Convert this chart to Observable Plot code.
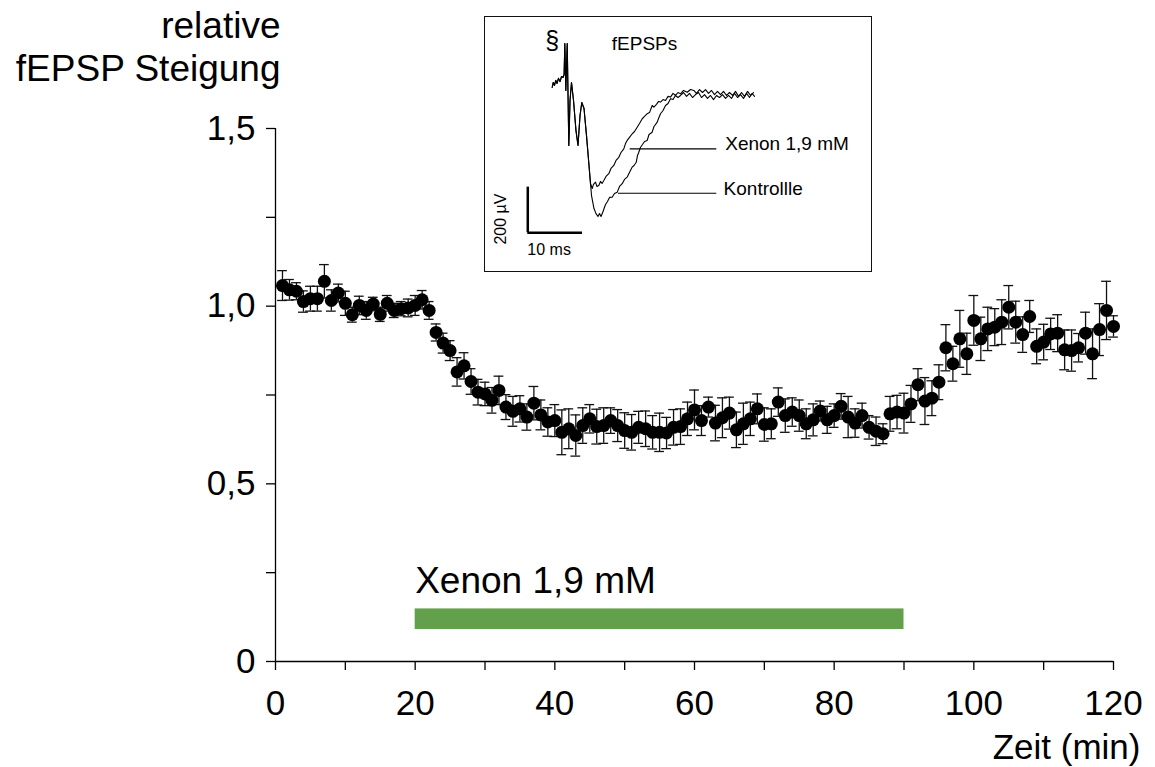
<!DOCTYPE html>
<html><head><meta charset="utf-8">
<script src="https://cdn.jsdelivr.net/npm/d3@7"></script>
<script src="https://cdn.jsdelivr.net/npm/@observablehq/plot@0.6"></script>
<style>
body{margin:0;background:#fff;}
#wrap{position:relative;width:1155px;height:767px;}
#inset{position:absolute;left:484px;top:16px;border:1.3px solid #111;}
</style></head><body><div id="wrap"></div>
<script>
// ---- main time course data ----
const minutes = [1,2,3,4,5,6,7,8,9,10,11,12,13,14,15,16,17,18,19,20,21,22,23,24,25,26,27,28,29,30,
31,32,33,34,35,36,37,38,39,40,41,42,43,44,45,46,47,48,49,50,51,52,53,54,55,56,57,58,59,60,
61,62,63,64,65,66,67,68,69,70,71,72,73,74,75,76,77,78,79,80,81,82,83,84,85,86,87,88,89,90,
91,92,93,94,95,96,97,98,99,100,101,102,103,104,105,106,107,108,109,110,111,112,113,114,115,116,117,118,119,120];
const slope = [1.058,1.046,1.042,1.013,1.021,1.021,1.070,1.016,1.037,1.008,0.976,1.002,0.988,1.006,0.977,1.008,0.988,0.993,0.995,1.002,
1.018,0.988,0.926,0.896,0.875,0.815,0.832,0.788,0.758,0.753,0.735,0.763,0.716,0.704,0.711,0.688,0.727,0.694,0.674,0.678,
0.645,0.655,0.636,0.664,0.683,0.661,0.664,0.678,0.664,0.650,0.645,0.659,0.655,0.645,0.645,0.643,0.659,0.661,0.683,0.708,
0.678,0.716,0.671,0.686,0.699,0.652,0.669,0.683,0.711,0.667,0.669,0.730,0.692,0.702,0.692,0.669,0.680,0.705,0.680,0.692,
0.718,0.688,0.671,0.692,0.659,0.648,0.641,0.697,0.702,0.699,0.725,0.779,0.733,0.741,0.786,0.883,0.838,0.908,0.866,0.960,
0.908,0.936,0.941,0.955,0.997,0.955,0.920,0.971,0.887,0.899,0.922,0.924,0.877,0.875,0.883,0.924,0.866,0.934,0.988,0.943];
const sem = [0.042,0.029,0.024,0.030,0.035,0.035,0.047,0.030,0.025,0.034,0.021,0.026,0.025,0.019,0.020,0.022,0.020,0.020,0.025,0.028,
0.026,0.025,0.024,0.028,0.028,0.040,0.037,0.036,0.036,0.033,0.036,0.040,0.035,0.042,0.037,0.037,0.047,0.042,0.040,0.045,
0.063,0.056,0.058,0.050,0.040,0.049,0.050,0.036,0.045,0.050,0.050,0.045,0.050,0.047,0.054,0.044,0.050,0.050,0.047,0.056,
0.042,0.028,0.050,0.056,0.045,0.050,0.058,0.047,0.042,0.047,0.042,0.040,0.047,0.040,0.044,0.042,0.045,0.028,0.038,0.033,
0.036,0.058,0.040,0.035,0.033,0.040,0.028,0.049,0.047,0.056,0.052,0.045,0.066,0.049,0.049,0.065,0.049,0.080,0.058,0.070,
0.061,0.061,0.052,0.063,0.061,0.059,0.050,0.045,0.049,0.050,0.044,0.052,0.056,0.058,0.040,0.059,0.070,0.073,0.082,0.030];
const xenonPeriod = [{start: 20, end: 90, label: "Xenon 1,9 mM"}];
const xTicksMajor = [0, 20, 40, 60, 80, 100, 120];
const xTicksMinor = [10, 30, 50, 70, 90, 110];
const yTicksMajor = [0, 0.5, 1.0, 1.5];
const yTickLabels = ["0", "0,5", "1,0", "1,5"];
const yTicksMinor = [0.25, 0.75, 1.25];
const yTitle = "relative\nfEPSP Steigung";
const xTitle = "Zeit (min)";

// ---- inset traces: [time (ms), amplitude (µV)] ----
const commonTrace = [[0.07,36],[0.27,57],[0.49,44],[0.73,66],[0.95,53],[1.22,75],[1.5,61],[1.77,83],[2.05,79],[2.25,92],
[2.38,228],[2.56,22],[2.82,228],[2.98,-22],[3.11,-219],[3.33,-22],[3.6,57],[3.97,-22],[4.42,-154],[4.79,-219],
[5.16,-88],[5.48,-31],[5.89,-57],[6.34,-175],[6.8,-307]];
const controlTrace = [[7.26,-439],[7.71,-496],[8.08,-518],[8.45,-531],[8.72,-518],[9.0,-531],[9.36,-509],[9.82,-478],[10.18,-465],
[10.55,-447],[11.04,-446],[11.46,-430],[11.96,-424],[12.38,-399],[12.87,-387],[13.29,-368],[13.78,-358],[14.2,-338],[14.7,-314],
[15.03,-307],[15.43,-293],[15.67,-263],[15.9,-249],[16.22,-227],[16.58,-215],[16.95,-202],[17.44,-197],[17.77,-171],[18.35,-161],
[18.68,-136],[19.27,-117],[19.51,-101],[19.87,-80],[20.33,-66],[20.79,-44],[21.25,-35],[21.7,-14],[22.16,-18],[22.61,0],
[23.07,-9],[23.53,0],[24.08,13],[24.63,-4],[25.17,9],[25.72,-9],[26.27,4],[26.82,13],[27.37,-9],[27.92,4],[28.46,-13],
[29.01,0],[29.56,-18],[30.11,0],[30.66,-9],[31.2,4],[31.75,-13],[32.3,0],[32.85,-13],[33.4,9],[33.95,-9],[34.5,4],
[35.05,-13],[35.6,9],[36.14,-9],[36.6,9],[37.06,-4]];
const xenonTrace = [[7.07,-386],[7.39,-408],[7.62,-390],[7.99,-380],[8.26,-399],[8.59,-395],[8.9,-377],[9.18,-386],[9.51,-373],
[9.91,-355],[10.42,-343],[10.82,-320],[11.33,-307],[11.74,-285],[12.25,-271],[12.65,-250],[13.16,-234],[13.47,-211],[13.78,-197],
[14.2,-184],[14.7,-168],[15.12,-158],[15.61,-139],[16.03,-123],[16.53,-102],[16.95,-92],[17.44,-80],[17.86,-75],[18.35,-44],
[18.65,-51],[19.14,-39],[19.51,-26],[19.87,-29],[20.33,-18],[20.79,-22],[21.25,-4],[21.7,-7],[22.16,9],[22.61,0],[23.07,13],
[23.53,7],[24.08,22],[24.75,14],[25.36,26],[25.96,22],[26.45,9],[27.0,26],[27.55,13],[28.1,26],[28.65,9],[29.2,22],
[29.74,4],[30.29,18],[30.84,4],[31.39,18],[31.94,0],[32.49,13],[33.04,0],[33.58,18],[34.13,-4],[34.68,13],[35.23,-4],
[35.78,18],[36.33,0],[36.87,13]];
const scaleBar = {t: -4.39, v: -602, dt: 10, dv: 200};
const traceLabels = [
  {text: "Xenon 1,9 mM", t: 31.7, v: -212, lineStart: 14.33, lineEnd: 30.16, lineV: -234},
  {text: "Kontrollle", t: 31.4, v: -409, lineStart: 12.19, lineEnd: 30.16, lineV: -428.5}
];

const FONT = 'Arial, "Liberation Sans", Helvetica, sans-serif';
const rows = minutes.map((t, i) => ({t, v: slope[i], e: sem[i]}));

const main = Plot.plot({
  width: 1155, height: 767,
  marginLeft: 275, marginRight: 42, marginTop: 128, marginBottom: 106,
  style: {fontFamily: FONT, background: "white", color: "black"},
  x: {domain: [0, 120], label: null},
  y: {domain: [0, 1.5], label: null},
  marks: [
    Plot.rect(xenonPeriod, {x1: "start", x2: "end", y1: 0.09, y2: 0.148, fill: "#62a04b"}),
    Plot.text(xenonPeriod, {x: "start", y: 0.194, text: "label", textAnchor: "start", lineAnchor: "bottom", fontSize: 37, fill: "black"}),
    Plot.ruleX(rows, {x: "t", y1: d => d.v - d.e, y2: d => d.v + d.e, stroke: "#111", strokeWidth: 1.3}),
    Plot.ruleY(rows, {y: d => d.v + d.e, x1: d => d.t - 0.7, x2: d => d.t + 0.7, stroke: "#111", strokeWidth: 1.3}),
    Plot.ruleY(rows, {y: d => d.v - d.e, x1: d => d.t - 0.7, x2: d => d.t + 0.7, stroke: "#111", strokeWidth: 1.3}),
    Plot.dot(rows, {x: "t", y: "v", r: 6.5, fill: "black", stroke: "none"}),
    Plot.ruleY([0], {stroke: "black", strokeWidth: 1.3}),
    Plot.ruleX([0], {stroke: "black", strokeWidth: 1.3}),
    Plot.axisX(xTicksMajor, {tickSize: 9, tickPadding: 20, fontSize: 35, strokeWidth: 1.3, label: null, tickFormat: d => String(d)}),
    Plot.axisX(xTicksMinor, {tickSize: 9, fontSize: 34, strokeWidth: 1.3, label: null, tickFormat: () => ""}),
    Plot.axisY(yTicksMajor, {tickSize: 9, tickPadding: 11, fontSize: 35, strokeWidth: 1.3, label: null,
      tickFormat: d => yTickLabels[yTicksMajor.indexOf(d)]}),
    Plot.axisY(yTicksMinor, {tickSize: 9, fontSize: 34, strokeWidth: 1.3, label: null, tickFormat: () => ""}),
    Plot.text([yTitle], {text: d => d, frameAnchor: "top-left", textAnchor: "end", lineAnchor: "bottom",
      dx: 5, dy: -48, fontSize: 37, lineHeight: 1.14, fill: "black"}),
    Plot.text([xTitle], {text: d => d, frameAnchor: "bottom-right", textAnchor: "end", lineAnchor: "bottom",
      dx: 27, dy: 97, fontSize: 35, fill: "black"})
  ]
});

const inset = Plot.plot({
  width: 386, height: 254,
  marginLeft: 0, marginRight: 0, marginTop: 0, marginBottom: 0,
  style: {fontFamily: FONT, background: "white", color: "black"},
  x: {domain: [-12.12, 58.44], axis: null},
  y: {domain: [-772, 342], axis: null},
  marks: [
    Plot.line(commonTrace.concat(controlTrace), {stroke: "black", strokeWidth: 1.1}),
    Plot.line(commonTrace.concat(xenonTrace), {stroke: "black", strokeWidth: 1.1}),
    Plot.ruleX([scaleBar], {x: "t", y1: "v", y2: d => d.v + d.dv, stroke: "black", strokeWidth: 2.5}),
    Plot.ruleY([scaleBar], {y: "v", x1: "t", x2: d => d.t + d.dt, stroke: "black", strokeWidth: 2.5}),
    Plot.text([scaleBar], {x: d => d.t - 5.0, y: d => d.v + 0.3 * d.dv, text: d => `${d.dv} µV`, rotate: -90, fontSize: 16, fill: "black"}),
    Plot.text([scaleBar], {x: d => d.t + 3.9, y: d => d.v - 73, text: d => `${d.dt} ms`, fontSize: 16, fill: "black"}),
    Plot.ruleY(traceLabels, {y: "lineV", x1: "lineStart", x2: "lineEnd", stroke: "black", strokeWidth: 1.1}),
    Plot.text(traceLabels, {x: "t", y: "v", text: "text", textAnchor: "start", fontSize: 19, fill: "black"}),
    Plot.text(["§"], {x: 0.07, y: 237, text: d => d, fontSize: 25, fill: "black"}),
    Plot.text(["fEPSPs"], {x: 10.97, y: 227, text: d => d, textAnchor: "start", fontSize: 19, fill: "black"})
  ]
});
inset.id = "inset";

const wrap = document.getElementById("wrap");
wrap.appendChild(main);
wrap.appendChild(inset);
</script></body></html>
